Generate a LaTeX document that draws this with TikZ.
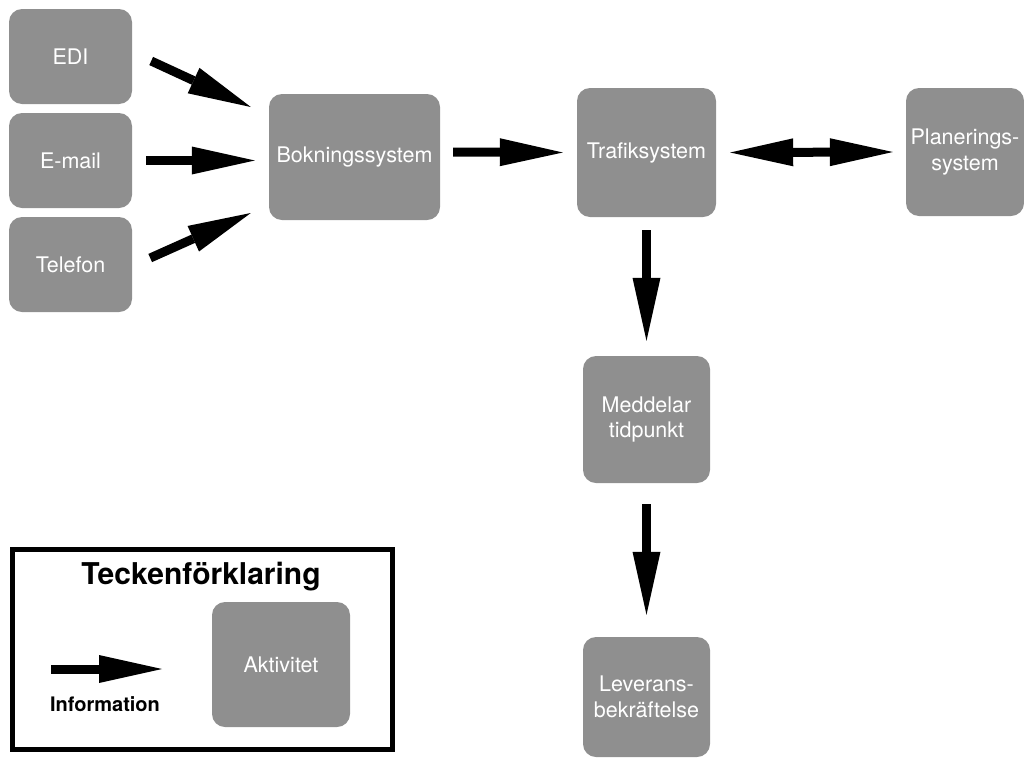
\documentclass[tikz,border=0pt]{standalone}
\usepackage{fontspec}
\setmainfont{TeX Gyre Heros}
\usetikzlibrary{arrows.meta}
\definecolor{boxgray}{RGB}{143,143,143}
\tikzset{
  activity/.style={fill=boxgray, draw=none, rounded corners=13pt, text=white,
    align=center, inner sep=0pt,
    font=\fontsize{21.5}{25.5}\selectfont},
  info/.style={line width=9pt, -{Triangle[length=63pt,width=28pt,line width=0pt]}},
  infoboth/.style={line width=9pt, {Triangle[length=63pt,width=28pt,line width=0pt]}-{Triangle[length=63pt,width=28pt,line width=0pt]}},
  legendframe/.style={draw=black, line width=5pt},
}
\begin{document}
\begin{tikzpicture}[x=1pt,y=-1pt]
\useasboundingbox (0,0) rectangle (1024,758);

% activities
\node[activity, minimum width=123pt, minimum height=95pt] (edi) at (70.5,56.5) {EDI};
\node[activity, minimum width=123pt, minimum height=95pt] (email) at (70.5,160.5) {E-mail};
\node[activity, minimum width=123pt, minimum height=95pt] (tel) at (70.5,264.5) {Telefon};
\node[activity, minimum width=171pt, minimum height=126pt] (bok) at (354.5,157) {Bokningssystem};
\node[activity, minimum width=139pt, minimum height=129pt] (traf) at (646.5,152.5) {Trafiksystem};
\node[activity, minimum width=118pt, minimum height=128pt] (plan) at (965,152) {Planerings-\\system};
\node[activity, minimum width=127pt, minimum height=127pt] (med) at (646.5,419.5) {Meddelar\\tidpunkt};
\node[activity, minimum width=127pt, minimum height=120pt] (lev) at (646.5,697) {Leverans-\\bekräftelse};

% information flows
\draw[info] ([xshift=19pt,yshift=-4.5pt]edi.east) -- ([xshift=-18pt,yshift=50pt]bok.west);
\draw[info] ([xshift=14pt]email.east) -- ([xshift=-14pt,yshift=-3.5pt]bok.west);
\draw[info] ([xshift=18pt,yshift=6.5pt]tel.east) -- ([xshift=-18pt,yshift=-56pt]bok.west);
\draw[info] ([xshift=13pt,yshift=5pt]bok.east) -- ([xshift=-14pt]traf.west);
\draw[infoboth] ([xshift=14pt]traf.east) -- ([xshift=-13pt]plan.west);
\draw[info] ([yshift=-13pt]traf.south) -- ([yshift=15pt]med.north);
\draw[info] ([yshift=-21pt]med.south) -- ([yshift=22pt]lev.north);

% legend
\draw[legendframe] (12.5,549.5) rectangle (392,749.5);
\node[font=\bfseries\fontsize{30}{36}\selectfont] (title) at (201,577) {Teckenförklaring};
\coordinate (ls) at (51,669);
\coordinate (le) at (162,669);
\draw[info] (ls) -- (le);
\node[font=\bfseries\fontsize{20}{24}\selectfont] (infolabel) at (105,704) {Information};
\node[activity, minimum width=138pt, minimum height=125pt] (akt) at (281,664.5) {Aktivitet};
\end{tikzpicture}
\end{document}
